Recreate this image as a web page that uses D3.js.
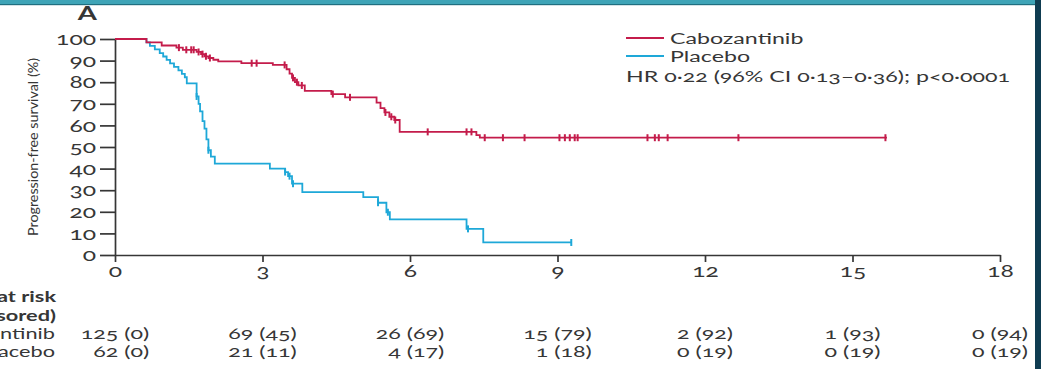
<!DOCTYPE html>
<html>
<head>
<meta charset="utf-8">
<script src="https://cdn.jsdelivr.net/npm/d3@7"></script>
<style>
    body { margin: 0; background: #fff; overflow: hidden; }
    svg text { font-family: Lato, "Open Sans", sans-serif; fill: #363636; font-variant-numeric: oldstyle-nums; }
</style>
</head>
<body>
<div class="chartKM"></div>
<script>
// #region Data
const monthTicks = [0, 3, 6, 9, 12, 15, 18];
const survivalTicks = [0, 10, 20, 30, 40, 50, 60, 70, 80, 90, 100];
const seriesNames = ["Cabozantinib", "Placebo"];
const seriesColors = ["#c41c4b", "#1ea8d8"];
const hrText = "HR 0\u00b722 (96% CI 0\u00b713\u20130\u00b736); p<0\u00b70001";

// [month, survival %] at each event
const caboSteps = [[0, 100], [0.64, 98.4], [0.95, 97], [1.25, 96], [1.38, 95], [1.66, 94], [1.75, 93], [1.82, 92],
    [1.9, 91.2], [2.0, 90.4], [2.1, 89.6], [2.57, 88.8], [3.21, 88], [3.49, 86], [3.55, 84], [3.6, 82], [3.66, 80],
    [3.73, 78.5], [3.86, 76], [4.4, 74.5], [4.68, 73], [5.32, 70.5], [5.4, 68], [5.48, 66], [5.58, 64], [5.68, 62.5],
    [5.79, 57], [7.35, 55.5], [7.42, 54.3]];
const caboEnd = 15.7;
const caboCensored = [1.3, 1.45, 1.55, 1.6, 1.7, 1.78, 1.85, 1.93, 2.78, 2.88, 3.45, 3.62, 3.7, 3.8, 4.43, 4.78,
    5.5, 5.62, 5.7, 6.36, 7.15, 7.25, 7.52, 7.89, 8.33, 9.04, 9.15, 9.25, 9.35, 9.41, 10.83, 10.98, 11.06, 11.24, 12.68, 15.67];

const placeboSteps = [[0, 100], [0.64, 98.4], [0.71, 96.8], [0.81, 95.2], [0.91, 93.5], [0.98, 91.9], [1.05, 90.3],
    [1.12, 88.7], [1.2, 87.1], [1.29, 85.5], [1.36, 83.9], [1.42, 82.3], [1.46, 79.5], [1.66, 73.4], [1.7, 70],
    [1.73, 66.5], [1.78, 62], [1.82, 58.5], [1.86, 53.5], [1.9, 48.5], [1.95, 45.5], [2.03, 42.3], [3.15, 40],
    [3.46, 38.4], [3.52, 36.5], [3.6, 33], [3.81, 29.1], [5.05, 26.8], [5.35, 24.2], [5.52, 19.8], [5.59, 16.5],
    [7.15, 12.1], [7.49, 5.8]];
const placeboEnd = 9.28;
const placeboCensored = [1.66, 1.9, 3.46, 3.55, 3.62, 5.35, 5.55, 7.18, 9.28];

const atRiskLabels = ["Number at risk", "(number censored)"];
const atRiskCabo = ["125 (0)", "69 (45)", "26 (69)", "15 (79)", "2 (92)", "1 (93)", "0 (94)"];
const atRiskPlacebo = ["62 (0)", "21 (11)", "4 (17)", "1 (18)", "0 (19)", "0 (19)", "0 (19)"];
// #endregion

// #region Main SVG
const width = 1041, height = 369;
const sx = 1.45;   // the source figure is stretched sideways
const fontSize = 16;
const riskFont = 15;
const svg = d3.select(".chartKM").append("svg")
    .attr("width", width).attr("height", height);

function stretch(sel, k) {
    sel.each(function () {
        const t = d3.select(this);
        const x = +t.attr("x") || 0;
        t.attr("transform", 'translate(' + x + ',0) scale(' + k + ',1) translate(' + (-x) + ',0)');
    });
}

const xScale = d3.scaleLinear().domain([0, 18]).range([115, 1000]);
const yScale = d3.scaleLinear().domain([0, 100]).range([255, 39]);
// #endregion

// #region Axes
const gY = svg.append("g").attr("class", "yScale")
    .attr("transform", 'translate(' + xScale(0) + ',0)')
    .call(d3.axisLeft(yScale).tickValues(survivalTicks).tickSize(15).tickSizeOuter(0).tickPadding(4));
const gX = svg.append("g").attr("class", "xScale")
    .attr("transform", 'translate(0,' + yScale(0) + ')')
    .call(d3.axisBottom(xScale).tickValues(monthTicks).tickSize(7).tickSizeOuter(0).tickPadding(3));
svg.selectAll(".yScale path, .yScale line, .xScale path, .xScale line")
    .attr("stroke", "#363636").attr("stroke-width", 1.7);
gY.selectAll("text").attr("font-size", 17).attr("dy", "0.33em").attr("fill", "#363636");
gX.selectAll("text").attr("font-size", 17).attr("dy", "0.7em").attr("fill", "#363636");
stretch(gY.selectAll("text"), sx);
stretch(gX.selectAll("text"), sx);

svg.append("text")
    .attr("transform", 'translate(38,' + ((yScale(0) + yScale(100)) / 2) + ') rotate(-90)')
    .attr("text-anchor", "middle")
    .attr("font-size", 14)
    .attr("textLength", 178).attr("lengthAdjust", "spacingAndGlyphs")
    .text("Progression-free survival (%)");

const aLabel = svg.append("text").attr("x", 97).attr("y", 20)
    .attr("text-anchor", "end").attr("font-size", 19).attr("font-weight", "bold").text("A");
stretch(aLabel, sx);
// #endregion

// #region Curves
function stepAt(steps, t) {
    let v = steps[0][1];
    steps.forEach(s => { if (s[0] <= t) v = s[1]; });
    return v;
}
const line = d3.line().x(d => xScale(d[0])).y(d => yScale(d[1])).curve(d3.curveStepAfter);
const curves = [
    { steps: caboSteps, end: caboEnd, censored: caboCensored },
    { steps: placeboSteps, end: placeboEnd, censored: placeboCensored }
];
[1, 0].forEach(i => {
    const c = curves[i];
    const pts = c.steps.concat([[c.end, c.steps[c.steps.length - 1][1]]]);
    const g = svg.append("g").attr("class", "gCurve" + seriesNames[i]);
    g.append("path").attr("d", line(pts))
        .attr("fill", "none").attr("stroke", seriesColors[i]).attr("stroke-width", 1.8);
    g.selectAll("line").data(c.censored).enter().append("line")
        .attr("x1", d => xScale(d)).attr("x2", d => xScale(d))
        .attr("y1", d => yScale(stepAt(c.steps, d)) - 3.5)
        .attr("y2", d => yScale(stepAt(c.steps, d)) + 3.5)
        .attr("stroke", seriesColors[i]).attr("stroke-width", 2);
});
// #endregion

// #region Legend
const gLegend = svg.append("g").attr("class", "gLegend");
seriesNames.forEach((name, i) => {
    gLegend.append("line").attr("x1", 626).attr("x2", 664)
        .attr("y1", 38 + i * 18).attr("y2", 38 + i * 18)
        .attr("stroke", seriesColors[i]).attr("stroke-width", 1.8);
    const t = gLegend.append("text").attr("x", 670).attr("y", 44 + i * 18)
        .attr("font-size", fontSize).text(name);
    stretch(t, sx);
});
stretch(gLegend.append("text").attr("x", 626).attr("y", 82).attr("font-size", fontSize).text(hrText), sx);
// #endregion

// #region Number at risk
const gRisk = svg.append("g").attr("class", "gRisk");
atRiskLabels.forEach((lab, i) => {
    stretch(gRisk.append("text").attr("x", 56).attr("y", 302 + i * 19)
        .attr("text-anchor", "end").attr("font-size", riskFont).attr("font-weight", "bold").text(lab), sx);
});
// right edge of each column: centred on the tick for the Cabozantinib row
const colRight = atRiskCabo.map((d, i) => {
    const probe = svg.append("text").attr("font-size", riskFont).text(d);
    const w = probe.node().getComputedTextLength() * 1.55;
    probe.remove();
    return xScale(monthTicks[i]) + w / 2;
});
[atRiskCabo, atRiskPlacebo].forEach((row, r) => {
    const yy = 339 + r * 18;
    stretch(gRisk.append("text").attr("x", 55).attr("y", yy)
        .attr("text-anchor", "end").attr("font-size", riskFont).text(seriesNames[r]), sx);
    gRisk.selectAll(".row" + r).data(row).enter().append("text")
        .attr("class", "row" + r)
        .attr("x", (d, i) => colRight[i]).attr("y", yy)
        .attr("text-anchor", "end").attr("font-size", riskFont).text(d => d)
        .call(s => stretch(s, 1.55));
});
// #endregion

// #region Frame
svg.append("rect").attr("x", 0).attr("y", 0).attr("width", width).attr("height", 5).attr("fill", "#3ea4b7");
svg.append("rect").attr("x", 0).attr("y", 4).attr("width", width).attr("height", 1.2).attr("fill", "#1f6f80");
svg.append("rect").attr("x", 1035).attr("y", 0).attr("width", 6).attr("height", height).attr("fill", "#0f3c51");
// #endregion
</script>
</body>
</html>
